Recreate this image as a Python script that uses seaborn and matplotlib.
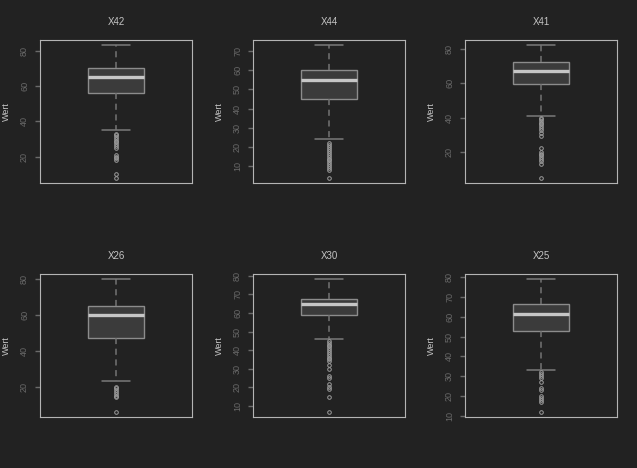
import numpy as np
import matplotlib
matplotlib.use("Agg")
from matplotlib import pyplot as plt
from matplotlib.ticker import MultipleLocator
import seaborn as sns

# values (R style boxplots of "Wert")
labels = ["X42", "X44", "X41", "X26", "X30", "X25"]
whisker_low = [35, 24, 41, 23, 46, 33.2]
quart1 = [56, 45, 59.6, 47.3, 58.7, 53]
medians = [65, 55, 67.2, 60, 64.8, 61.2]
quart3 = [70, 60, 72.2, 65.1, 67.6, 66.5]
whisker_high = [83, 73, 82, 80, 78, 79]
outliers = [
    [33, 32, 31, 30, 29, 28, 27, 26, 25, 21, 20, 19, 18, 10, 8],
    [22, 21, 20, 19, 18, 17, 16, 15, 14, 13, 12, 11, 10, 9, 8, 4],
    [40, 39, 38, 37, 36, 35, 34, 33, 31, 29, 22, 20, 19, 18, 17, 16, 15, 13, 5],
    [20, 19, 18, 17, 16, 15, 14, 6],
    [45, 44, 43, 42, 41, 40, 39, 38, 37, 36, 35, 34, 32, 30, 26, 25, 22, 20, 19, 15, 7],
    [32, 31, 30, 29, 27, 24, 23, 20, 19, 18, 17, 12],
]
tick_steps = [20, 10, 20, 20, 10, 10]

bg = "#222222"
txt = "#c4c4c4"

sns.set_style("dark", rc={
    "axes.facecolor": bg,
    "figure.facecolor": bg,
    "axes.edgecolor": "#b4b4b4",
    "axes.linewidth": 1.0,
    "axes.grid": False,
    "ytick.left": True,
    "ytick.color": "#6a6a6a",
    "ytick.labelcolor": "#b0b0b0",
    "axes.labelcolor": txt,
    "text.color": txt,
})
plt.rcParams["font.family"] = ["Liberation Sans", "DejaVu Sans"]


def make_sample(i):
    # a sample that gives exactly the read quartiles / whiskers / fliers
    m = len(outliers[i]) + 3
    return (list(outliers[i]) + [whisker_low[i]] + [quart1[i]] * m
            + [medians[i]] * m + [quart3[i]] * m + [whisker_high[i]])


fig = plt.figure(figsize=(6.37, 4.68), dpi=100)
W, H = 637, 468
lefts = [40, 253, 465]
tops = [40, 274]
aw, ah = 152, 143

for i, name in enumerate(labels):
    r, c = divmod(i, 3)
    ax = fig.add_axes([lefts[c] / W, 1 - (tops[r] + ah) / H, aw / W, ah / H])
    sample = make_sample(i)
    sns.boxplot(y=sample, ax=ax, width=0.37, color="#3b3b3b", linecolor="#8c8c8c",
                linewidth=1.0, saturation=1, whis=1.5,
                medianprops=dict(color="#c6c6c6", linewidth=2.4),
                whiskerprops=dict(color="#737373", linewidth=1.1, linestyle=(0, (4, 3))),
                capprops=dict(color="#7a7a7a", linewidth=1.1),
                flierprops=dict(marker="o", markersize=2.6, markerfacecolor="none",
                                markeredgecolor="#9c9c9c", markeredgewidth=0.7))
    lo, hi = min(sample), max(sample)
    pad = 0.04 * (hi - lo)
    ax.set_ylim(lo - pad, hi + pad)
    ax.set_xlim(-0.5, 0.5)
    ax.set_xticks([])
    ax.yaxis.set_major_locator(MultipleLocator(tick_steps[i]))
    ax.tick_params(axis="y", length=3.6, width=1, pad=4.3, labelsize=6.5, labelrotation=90)
    for lab in ax.get_yticklabels():
        lab.set_va("center")
    ax.set_ylabel("Wert", fontsize=6.5, color=txt)
    ax.yaxis.set_label_coords(-0.19, 0.5)
    ax.set_title(name, fontsize=7, color=txt, pad=11)
    for s in ax.spines.values():
        s.set_visible(True)
        s.set_color("#b4b4b4")

fig.savefig("out.png", dpi=100, facecolor=bg)
